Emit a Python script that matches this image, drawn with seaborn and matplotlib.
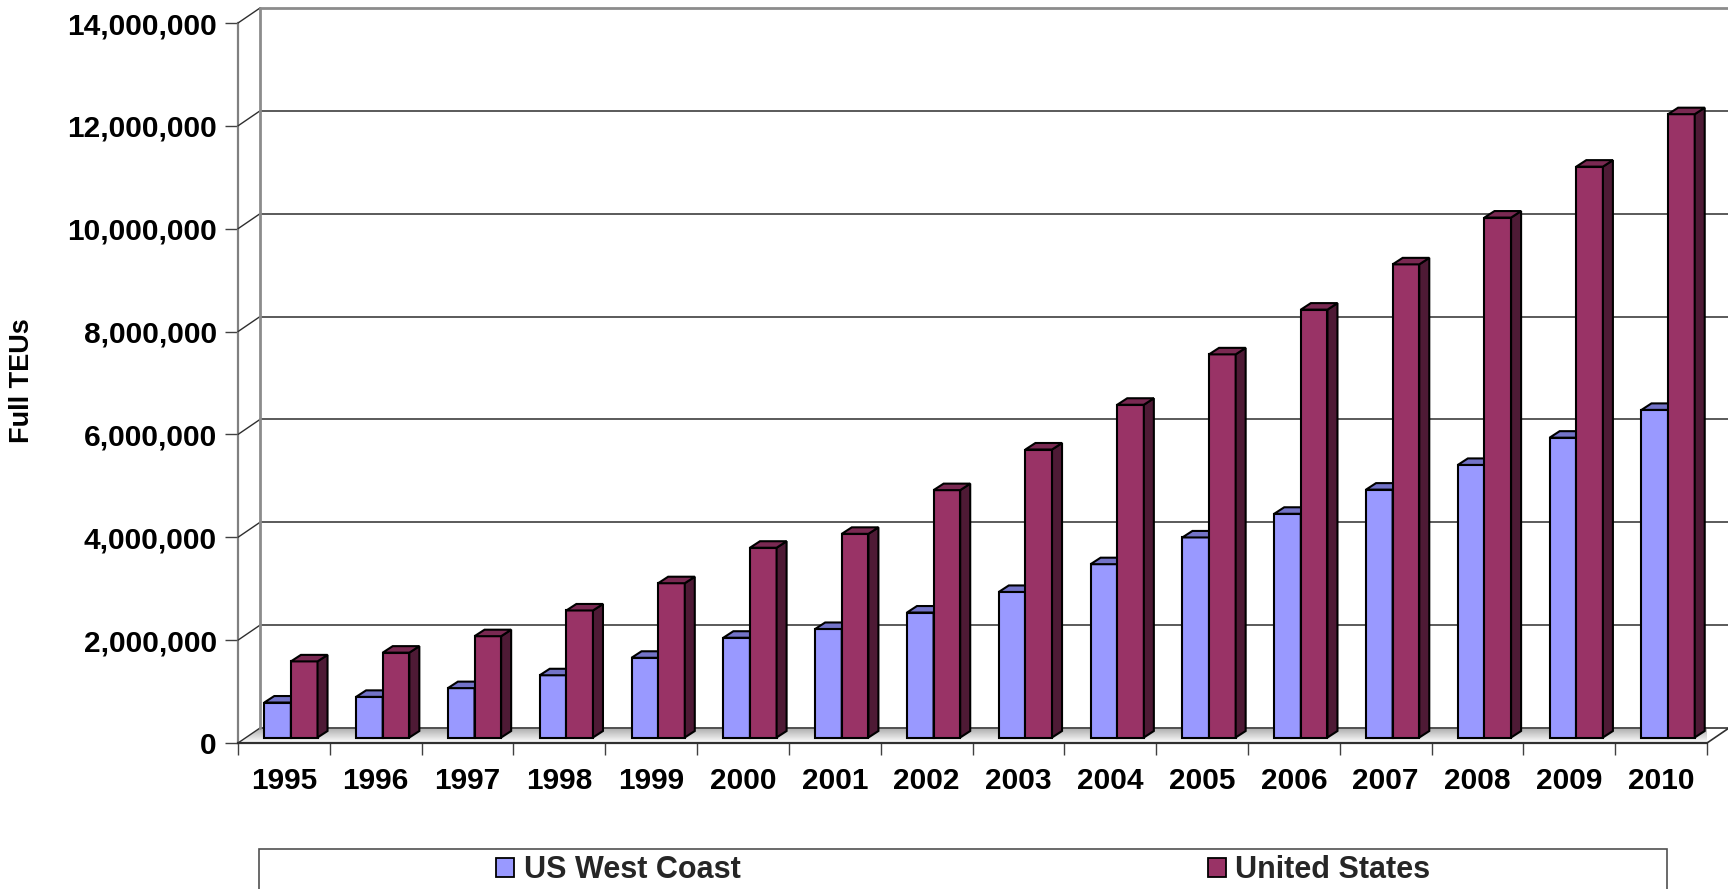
import numpy as np
import pandas as pd
import matplotlib
matplotlib.use("Agg")
import matplotlib.pyplot as plt
import seaborn as sns
from matplotlib.patches import Polygon, Rectangle
from matplotlib.ticker import FuncFormatter

# ---- data -------------------------------------------------------------
years = [str(y) for y in range(1995, 2011)]
west_coast = [680_000, 790_000, 960_000, 1_210_000, 1_550_000, 1_940_000,
              2_110_000, 2_430_000, 2_830_000, 3_370_000, 3_890_000,
              4_350_000, 4_820_000, 5_300_000, 5_830_000, 6_370_000]
united_states = [1_480_000, 1_650_000, 1_970_000, 2_470_000, 3_000_000,
                 3_690_000, 3_960_000, 4_810_000, 5_600_000, 6_470_000,
                 7_450_000, 8_320_000, 9_200_000, 10_110_000, 11_100_000,
                 12_120_000]
series_names = ["US West Coast", "United States"]
y_ticks = list(range(0, 14_000_001, 2_000_000))
y_label = "Full TEUs"

# ---- styling ------------------------------------------------------------
front_colors = {"US West Coast": "#9999FF", "United States": "#993366"}
top_colors = {"US West Coast": "#7373C8", "United States": "#7A2952"}
side_colors = {"US West Coast": "#5C5CA0", "United States": "#4E1A35"}
series_z = {"US West Coast": 3, "United States": 4}
edge_lw = 1.5

sns.set_theme(style="white")
plt.rcParams["font.family"] = ["Liberation Sans", "DejaVu Sans"]
plt.rcParams["font.weight"] = "bold"

W, H, DPI = 1728, 889, 100
fig = plt.figure(figsize=(W / DPI, H / DPI), dpi=DPI)
fig.patch.set_facecolor("white")

# front plane of the plot area (pixels)
left_px, right_px, top_px, base_px = 238, 1707, 23, 743
ax = fig.add_axes([left_px / W, 1 - base_px / H,
                   (right_px - left_px) / W, (base_px - top_px) / H])
ax.set_facecolor("none")

n = len(years)
x_lo, x_hi = -0.5, n - 0.5
y_lo, y_hi = 0, 14_000_000
ux = (x_hi - x_lo) / (right_px - left_px)   # data units per pixel (x)
uy = (y_hi - y_lo) / (base_px - top_px)     # data units per pixel (y)

wall_dx, wall_dy = 22 * ux, 15 * uy         # back wall depth
plane_dx, plane_dy = 7 * ux, 5.5 * uy       # bars sit part-way into the depth
bar_dx, bar_dy = 10 * ux, 6.5 * uy          # thickness of each column

df = pd.DataFrame({
    "year": years * 2,
    "series": [series_names[0]] * n + [series_names[1]] * n,
    "teu": west_coast + united_states,
})

sns.barplot(data=df, x="year", y="teu", hue="series", hue_order=series_names,
            palette=front_colors, width=0.58, saturation=1, gap=0,
            edgecolor="black", linewidth=edge_lw, legend=False, ax=ax)

# ---- floor with a soft gradient ------------------------------------------
floor_pts = [(x_lo, 0), (x_hi, 0), (x_hi + wall_dx, wall_dy), (x_lo + wall_dx, wall_dy)]
floor_poly = Polygon(floor_pts, closed=True, facecolor="none", edgecolor="none",
                     transform=ax.transData)
ax.add_patch(floor_poly)
grad = np.linspace(1.0, 0.68, 64).reshape(-1, 1)
img = ax.imshow(grad, extent=[x_lo, x_hi + wall_dx, 0, wall_dy], origin="lower",
                aspect="auto", cmap="gray", vmin=0, vmax=1, zorder=0.5,
                interpolation="bilinear")
img.set_clip_path(floor_poly)
img.set_clip_on(True)
ax.plot([x_lo + wall_dx, x_hi + wall_dx], [wall_dy, wall_dy], color="#505050",
        lw=1.4, zorder=0.8, clip_on=False)
ax.plot([x_hi, x_hi + wall_dx], [0, wall_dy], color="#303030", lw=1.2,
        zorder=0.8, clip_on=False)

# ---- back wall gridlines and connectors --------------------------------
far_right = x_hi + wall_dx + 60 * ux
for v in y_ticks[1:]:
    top = v == y_ticks[-1]
    ax.plot([x_lo + wall_dx, far_right], [v + wall_dy] * 2,
            color="#8C8C8C" if top else "#2E2E2E", lw=2.0 if top else 1.1,
            zorder=1, clip_on=False)
for v in y_ticks:
    ax.plot([x_lo, x_lo + wall_dx], [v, v + wall_dy], color="#2E2E2E", lw=1.0,
            zorder=1, clip_on=False)
ax.plot([x_lo + wall_dx] * 2, [wall_dy, y_hi + wall_dy], color="#8C8C8C",
        lw=2.0, zorder=1, clip_on=False)

# ---- 3-D columns ------------------------------------------------------------
for name, container in zip(series_names, ax.containers):
    z = series_z[name]
    for p in container.patches:
        p.set_x(p.get_x() + plane_dx)
        p.set_y(p.get_y() + plane_dy)
        p.set_zorder(z)
        p.set_clip_on(False)
        x0 = p.get_x()
        x1 = x0 + p.get_width()
        yb = p.get_y()
        yt = yb + p.get_height()
        top_face = Polygon([(x0, yt), (x1, yt), (x1 + bar_dx, yt + bar_dy),
                            (x0 + bar_dx, yt + bar_dy)], closed=True,
                           facecolor=top_colors[name], edgecolor="black",
                           lw=edge_lw, zorder=z, clip_on=False,
                           joinstyle="miter")
        side_face = Polygon([(x1, yb), (x1 + bar_dx, yb + bar_dy),
                             (x1 + bar_dx, yt + bar_dy), (x1, yt)], closed=True,
                            facecolor=side_colors[name], edgecolor="black",
                            lw=edge_lw, zorder=z, clip_on=False,
                            joinstyle="miter")
        ax.add_patch(side_face)
        ax.add_patch(top_face)

ax.set_xlim(x_lo, x_hi)
ax.set_ylim(y_lo, y_hi)

# ---- axes, ticks, labels ---------------------------------------------------
for s in ("top", "right"):
    ax.spines[s].set_visible(False)
ax.spines["left"].set_color("#808080")
ax.spines["left"].set_linewidth(1.6)
ax.spines["bottom"].set_color("#303030")
ax.spines["bottom"].set_linewidth(1.6)
ax.spines["left"].set_zorder(0.9)
ax.spines["bottom"].set_zorder(0.9)

ax.set_yticks(y_ticks)
ax.yaxis.set_major_formatter(FuncFormatter(lambda v, _: f"{int(v):,}"))
ax.tick_params(axis="y", which="major", length=9.4, width=1.0, color="#404040",
               pad=5.8, labelsize=21.5, left=True)

ax.set_xticks(range(n), years)
ax.set_xticks(np.arange(x_lo, x_hi + 0.01, 1.0), minor=True)
ax.tick_params(axis="x", which="major", length=0, pad=17, labelsize=21.5,
               bottom=True)
ax.tick_params(axis="x", which="minor", length=8.6, width=1.0, color="#404040",
               bottom=True, direction="out")
for lbl in ax.get_xticklabels() + ax.get_yticklabels():
    lbl.set_fontweight("bold")
    lbl.set_color("black")

ax.set_xlabel("")
ax.set_ylabel("")
fig.text(22 / W, 1 - 381 / H, y_label, rotation=90, ha="center", va="center",
         fontsize=19.5, fontweight="bold", color="black")

# ---- legend ----------------------------------------------------------------
fig.add_artist(Rectangle((259 / W, -0.1), (1667 - 259) / W, (1 - 849 / H) + 0.1,
                         transform=fig.transFigure, fill=False,
                         edgecolor="#505050", lw=1.2))
handles = [Rectangle((0, 0), 1, 1, facecolor=front_colors[s], edgecolor="black",
                     lw=1.3) for s in series_names]
fig.legend(handles, series_names, loc="center left",
           bbox_to_anchor=(496 / W, 1 - 870 / H), ncol=2, frameon=False,
           borderpad=0, borderaxespad=0, handlelength=0.6, handleheight=0.6,
           handletextpad=0.3, columnspacing=15.3,
           prop={"size": 22, "weight": "bold"})

fig.savefig("out.png", dpi=DPI, facecolor="white")
